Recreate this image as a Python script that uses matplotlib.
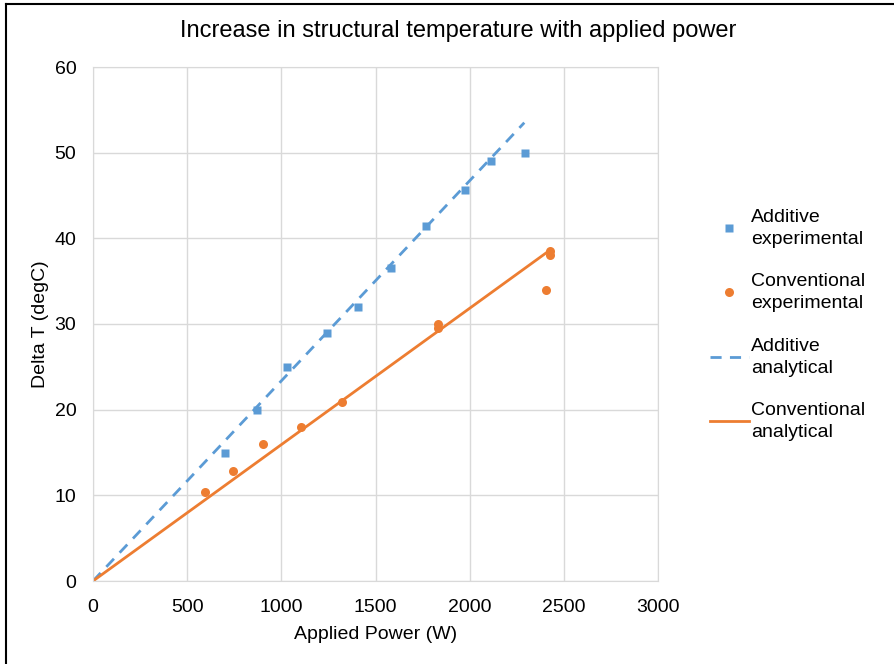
import matplotlib
matplotlib.use('Agg')
import matplotlib.pyplot as plt
from matplotlib.lines import Line2D

plt.rcParams['font.family'] = ['Liberation Sans', 'DejaVu Sans']

add_exp_power = [701, 872, 1032, 1244, 1405, 1582, 1766, 1975, 2113, 2296]
add_exp_dt = [15.0, 20.0, 25.0, 29.0, 32.0, 36.5, 41.4, 45.6, 49.0, 50.0]

conv_exp_power = [595, 743, 905, 1104, 1324, 1833, 1833, 2405, 2425, 2425]
conv_exp_dt = [10.4, 12.8, 16.0, 18.0, 20.9, 30.0, 29.5, 34.0, 38.5, 38.0]

# analytical lines
add_ana_power = [0, 2290]
add_ana_dt = [0, 53.5]
conv_ana_power = [0, 2425]
conv_ana_dt = [0, 38.6]

x_ticks = [0, 500, 1000, 1500, 2000, 2500, 3000]
y_ticks = [0, 10, 20, 30, 40, 50, 60]

blue = '#5B9BD5'
orange = '#ED7D31'
grid_c = '#D9D9D9'

fig = plt.figure(figsize=(8.94, 6.64), dpi=100)
ax = fig.add_axes([93 / 894, 1 - 581 / 664, (658 - 93) / 894, (581 - 67) / 664])

ax.plot(add_ana_power, add_ana_dt, color=blue, lw=2, ls=(0, (4, 3)), zorder=2)
ax.plot(conv_ana_power, conv_ana_dt, color=orange, lw=2, zorder=2)
ax.plot(add_exp_power, add_exp_dt, 's', color=blue, ms=5.5, mec='none', zorder=3)
ax.plot(conv_exp_power, conv_exp_dt, 'o', color=orange, ms=6.5, mec='none', zorder=3)

ax.set_xlim(0, 3000)
ax.set_ylim(0, 60)
ax.set_xticks(x_ticks)
ax.set_yticks(y_ticks)
ax.grid(True, color=grid_c, lw=1)
ax.set_axisbelow(True)
for s in ax.spines.values():
    s.set_color(grid_c)
ax.tick_params(length=0, labelsize=14, colors='black')
ax.tick_params(axis='x', pad=13)
ax.tick_params(axis='y', pad=12)

ax.set_xlabel('Applied Power (W)', fontsize=14, labelpad=7)
ax.set_ylabel('Delta T (degC)', fontsize=14, labelpad=4)

fig.text(458 / 894, 1 - 31 / 664, 'Increase in structural temperature with applied power',
         ha='center', va='center', fontsize=17)

handles = [
    Line2D([], [], ls='none', marker='s', color=blue, ms=5.5, mec='none'),
    Line2D([], [], ls='none', marker='o', color=orange, ms=6.5, mec='none'),
    Line2D([], [], color=blue, lw=2, ls=(0, (4, 3))),
    Line2D([], [], color=orange, lw=2),
]
labels = ['Additive\nexperimental', 'Conventional\nexperimental',
          'Additive\nanalytical', 'Conventional\nanalytical']
leg = fig.legend(handles, labels, loc='upper left', bbox_to_anchor=(696 / 894, 1 - 195 / 664),
                 frameon=False, fontsize=14, handlelength=2.0, handletextpad=0.15,
                 labelspacing=1.3, borderpad=0.2)
for t in leg.get_texts():
    t.set_linespacing(1.4)

# chart frame (left / top visible edges)
fig.add_artist(Line2D([6 / 894, 6 / 894], [0, 1 - 4 / 664], color='black', lw=1.5,
                      transform=fig.transFigure))
fig.add_artist(Line2D([6 / 894, 1], [1 - 4 / 664, 1 - 4 / 664], color='black', lw=1.5,
                      transform=fig.transFigure))

fig.savefig('out.png', dpi=100)
